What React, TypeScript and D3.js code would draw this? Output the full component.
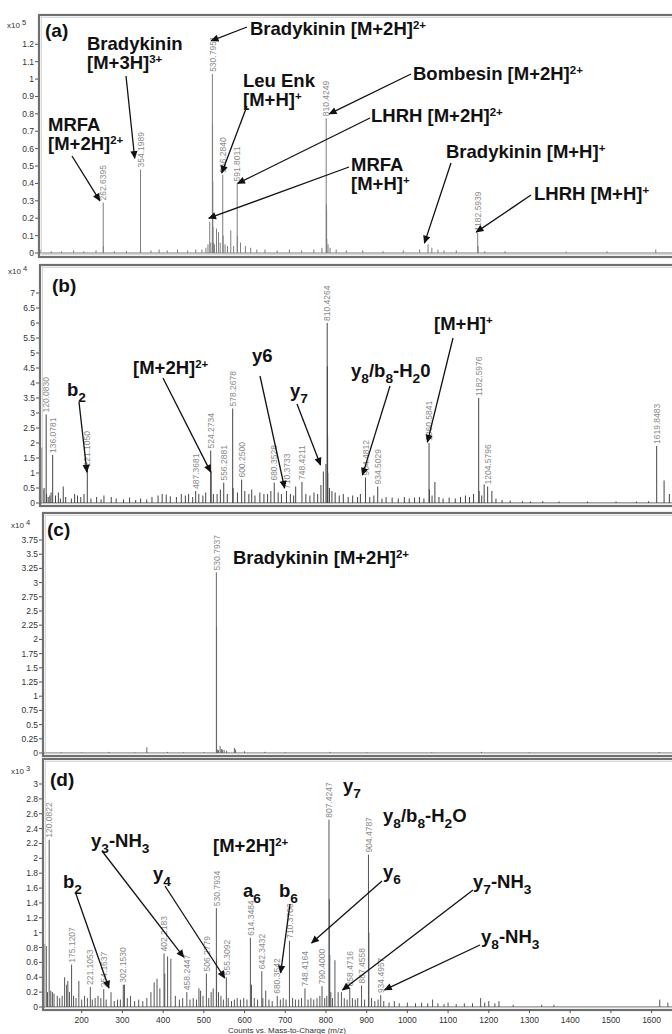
import React from 'react';
import * as d3 from 'd3';

const FONT = '"Liberation Sans", Arial, Helvetica, sans-serif';

// ---------- data: [m/z, intensity] (intensity in the panel's x10^n units) ----------

// (a) peptide mix, x10^5
const labeledA = [
  [262.6395, 0.29], [354.1989, 0.48], [530.7951, 1.03], [556.284, 0.45],
  [591.8011, 0.4], [810.4249, 0.775], [1182.5939, 0.115],
];
const sticksA = [
  [524.26, 0.18], [531.29, 0.74], [531.79, 0.41], [532.3, 0.15], [541, 0.14], [546, 0.12],
  [557.29, 0.1], [576, 0.13], [592.3, 0.1], [810.92, 0.28], [811.43, 0.25], [811.93, 0.08],
  [1060.57, 0.05], [1183.6, 0.04],
  [110, 0.02], [135, 0.01], [160, 0.01], [190, 0.015], [215, 0.01], [245, 0.015], [263.14, 0.04],
  [290, 0.01], [320, 0.012], [354.53, 0.03], [380, 0.015], [400, 0.02], [420, 0.015], [445, 0.02],
  [470, 0.015], [490, 0.02], [505, 0.02], [515, 0.03], [520, 0.05], [527, 0.06], [533, 0.06],
  [536, 0.05], [550, 0.06], [562, 0.05], [568, 0.04], [583, 0.04], [600, 0.06], [612, 0.04],
  [625, 0.03], [640, 0.02], [660, 0.02], [690, 0.015], [720, 0.02], [750, 0.015], [780, 0.02],
  [800, 0.03], [815, 0.05], [820, 0.03], [835, 0.02], [860, 0.015], [900, 0.015], [950, 0.01],
  [1000, 0.015], [1040, 0.02], [1070, 0.03], [1085, 0.02], [1100, 0.015], [1130, 0.015],
  [1200, 0.01], [1250, 0.01], [1400, 0.008], [1500, 0.01], [1620, 0.02],
];

// (b) bombesin MS/MS, x10^4
const labeledB = [
  [120.083, 2.95], [136.0781, 1.6], [221.105, 1.15], [487.3681, 0.4], [524.2734, 1.75],
  [556.2881, 0.68], [578.2678, 3.15], [600.25, 0.78], [680.3528, 0.68], [710.3733, 0.4],
  [748.4211, 0.7], [810.4264, 6.0], [904.4812, 0.85], [934.5029, 0.55], [1060.5841, 2.0],
  [1182.5976, 3.5], [1204.5796, 0.55], [1619.8483, 1.9],
];
const sticksB = [
  [110.07, 1.85], [112, 0.45], [121.08, 0.3], [129, 0.25], [132, 0.35], [162, 0.55],
  [525.28, 1.05], [530.79, 0.3], [579.27, 0.5], [733, 0.55], [801, 1.05], [807.4, 1.3],
  [810.93, 4.55], [811.43, 2.25], [811.93, 1.0], [1061.59, 0.45], [1075, 0.7], [1183.6, 0.4],
  [1196, 0.62], [1215, 0.4], [1638, 0.75], [1651, 0.3],
  [104, 0.15], [115, 0.5], [125, 0.2], [143, 0.25], [150, 0.35], [155, 0.15], [168, 0.2],
  [182, 0.15], [190, 0.3], [197, 0.25], [205, 0.2], [213, 0.3], [230, 0.15], [244, 0.2],
  [255, 0.12], [262, 0.25], [280, 0.2], [292, 0.15], [310, 0.12], [325, 0.18], [340, 0.1],
  [352, 0.15], [367, 0.12], [380, 0.2], [395, 0.25], [405, 0.3], [415, 0.28], [425, 0.22],
  [440, 0.2], [452, 0.3], [462, 0.25], [470, 0.3], [480, 0.2], [495, 0.3], [505, 0.25],
  [512, 0.35], [540, 0.3], [548, 0.45], [565, 0.3], [590, 0.35], [608, 0.4], [618, 0.3],
  [625, 0.45], [633, 0.25], [645, 0.35], [655, 0.3], [664, 0.3], [672, 0.4], [690, 0.35],
  [698, 0.3], [720, 0.3], [728, 0.25], [758, 0.3], [768, 0.25], [778, 0.35], [787, 0.3],
  [795, 0.6], [816, 0.5], [822, 0.4], [830, 0.35], [840, 0.25], [850, 0.3], [862, 0.2],
  [873, 0.25], [885, 0.2], [892, 0.3], [915, 0.2], [925, 0.25], [945, 0.15], [955, 0.2],
  [970, 0.18], [985, 0.15], [1000, 0.2], [1012, 0.15], [1025, 0.18], [1037, 0.2], [1048, 0.15],
  [1068, 0.25], [1085, 0.2], [1095, 0.15], [1110, 0.18], [1125, 0.15], [1138, 0.2], [1150, 0.25],
  [1160, 0.2], [1170, 0.3], [1190, 0.25], [1225, 0.15], [1240, 0.1], [1260, 0.08], [1290, 0.06],
  [1310, 0.05], [1340, 0.06], [1380, 0.05], [1450, 0.05], [1520, 0.05], [1570, 0.05], [1600, 0.06],
];

// (c) isolated bradykinin precursor, x10^4
const labeledC = [[530.7937, 3.18]];
const sticksC = [
  [531.29, 2.22], [150, 0.01], [200, 0.01], [267, 0.02], [330, 0.01], [360, 0.1], [411, 0.02],
  [450, 0.01], [500, 0.015], [533, 0.06], [536, 0.05], [540, 0.12], [543, 0.07], [546, 0.06],
  [550, 0.05], [556, 0.04], [575, 0.09], [578, 0.06], [600, 0.03], [650, 0.02], [700, 0.01],
  [810, 0.02], [900, 0.01], [1060, 0.01], [1182, 0.02], [1300, 0.01], [1619, 0.015],
];

// (d) bradykinin MS/MS, x10^3
const labeledD = [
  [120.0822, 2.25], [175.1207, 0.57], [221.1053, 0.27], [254.1637, 0.24], [302.153, 0.3],
  [402.2183, 0.72], [458.2447, 0.2], [506.2779, 0.45], [530.7934, 1.33], [555.3092, 0.4],
  [614.3484, 0.93], [642.3432, 0.48], [680.3542, 0.15], [710.3708, 0.89], [748.4164, 0.25],
  [790.4, 0.28], [807.4247, 2.52], [858.4716, 0.25], [887.4558, 0.29], [904.4787, 2.05],
  [934.4957, 0.16],
];
const sticksD = [
  [103, 0.2], [106, 0.15], [110, 0.85], [113, 0.82], [116, 0.2], [124, 0.22], [128, 0.2],
  [132, 0.18], [140, 0.15], [146, 0.12], [152, 0.15], [158, 0.4], [163, 0.3], [166, 0.35],
  [170, 0.2], [180, 0.15], [186, 0.12], [193, 0.35], [200, 0.1], [207, 0.15], [214, 0.12],
  [226, 0.1], [233, 0.12], [240, 0.15], [247, 0.12], [260, 0.1], [272, 0.2], [280, 0.08],
  [288, 0.1], [295, 0.1], [305, 0.3], [312, 0.12], [320, 0.15], [330, 0.08], [340, 0.1],
  [350, 0.08], [360, 0.12], [370, 0.2], [378, 0.33], [385, 0.38], [392, 0.25], [404, 0.45],
  [411, 0.68], [419, 0.65], [430, 0.15], [440, 0.1], [448, 0.12], [466, 0.1], [474, 0.12],
  [482, 0.1], [488, 0.25], [492, 0.22], [498, 0.15], [512, 0.12], [518, 0.2], [523, 0.25],
  [531.29, 0.65], [536, 0.2], [542, 0.15], [548, 0.1], [560, 0.12], [568, 0.08], [575, 0.1],
  [582, 0.12], [590, 0.1], [598, 0.12], [606, 0.1], [617, 0.3], [624, 0.12], [632, 0.1],
  [645, 0.12], [652, 0.22], [660, 0.1], [668, 0.08], [688, 0.1], [695, 0.12], [702, 0.1],
  [718, 0.12], [725, 0.1], [733, 0.1], [740, 0.12], [756, 0.1], [763, 0.12], [770, 0.1],
  [778, 0.12], [785, 0.15], [797, 0.12], [802, 0.15], [808.43, 1.45], [809.43, 0.7], [812, 0.2],
  [816, 0.12], [822, 0.63], [830, 0.2], [838, 0.2], [845, 0.12], [852, 0.1], [865, 0.12],
  [872, 0.1], [878, 0.12], [895, 0.1], [905.48, 1.0], [912, 0.12], [920, 0.08], [928, 0.1],
  [942, 0.08], [955, 0.06], [968, 0.08], [980, 0.05], [1000, 0.06], [1020, 0.05], [1035, 0.06],
  [1050, 0.05], [1062, 0.1], [1075, 0.05], [1090, 0.04], [1100, 0.06], [1120, 0.04], [1140, 0.05],
  [1160, 0.05], [1180, 0.12], [1190, 0.06], [1200, 0.08], [1215, 0.05], [1225, 0.08], [1260, 0.03],
  [1330, 0.03], [1360, 0.03], [1620, 0.1], [1640, 0.06],
];

// annotations: text lines and the point (m/z, intensity) the arrow points at
const annA = [
  { lines: ['Bradykinin [M+2H]^{2+}'], mz: 528, v: 1.22 },
  { lines: ['Bradykinin', '[M+3H]^{3+}'], mz: 340, v: 0.545 },
  { lines: ['Leu Enk', '[M+H]^{+}'], mz: 553.8, v: 0.46 },
  { lines: ['MRFA', '[M+2H]^{2+}'], mz: 254.5, v: 0.3 },
  { lines: ['Bombesin [M+2H]^{2+}'], mz: 818, v: 0.8 },
  { lines: ['LHRH [M+2H]^{2+}'], mz: 593, v: 0.4 },
  { lines: ['MRFA', '[M+H]^{+}'], mz: 522, v: 0.2 },
  { lines: ['Bradykinin [M+H]^{+}'], mz: 1051.7, v: 0.057 },
  { lines: ['LHRH [M+H]^{+}'], mz: 1179, v: 0.12 },
];
const annB = [
  { lines: ['b_2'], mz: 220.2, v: 1.03 },
  { lines: ['[M+2H]^{2+}'], mz: 524.3, v: 1.03 },
  { lines: ['y6'], mz: 705.8, v: 0.5 },
  { lines: ['y_7'], mz: 794, v: 1.27 },
  { lines: ['y_8/b_8-H_20'], mz: 897, v: 0.93 },
  { lines: ['[M+H]^{+}'], mz: 1056.6, v: 2.03 },
];
const annC = [{ lines: ['Bradykinin [M+2H]^{2+}'], mz: null, v: null }];
const annD = [
  { lines: ['y_3-NH_3'], mz: 450.7, v: 0.67 },
  { lines: ['[M+2H]^{2+}'], mz: null, v: null },
  { lines: ['b_2'], mz: 266.8, v: 0.255 },
  { lines: ['y_4'], mz: 551.3, v: 0.39 },
  { lines: ['a_6'], mz: null, v: null },
  { lines: ['b_6'], mz: 688.7, v: 0.46 },
  { lines: ['y_7'], mz: null, v: null },
  { lines: ['y_8/b_8-H_2O'], mz: null, v: null },
  { lines: ['y_6'], mz: 764.7, v: 0.86 },
  { lines: ['y_7-NH_3'], mz: 840.7, v: 0.23 },
  { lines: ['y_8-NH_3'], mz: 943.8, v: 0.23 },
];

const xTicks = [200, 300, 400, 500, 600, 700, 800, 900, 1000, 1100, 1200, 1300, 1400, 1500, 1600];

// ---------- layout ----------
// text position [x, baseline] and arrow tail [x, y], in pixels, same order as ann arrays
const posA = [[250, 35, 247, 27], [87, 50, 126, 76], [243, 87, 247, 106], [48, 131, 72, 156],
  [413, 80, 411, 74], [371, 122, 370, 118], [351, 171, 349, 167], [446, 158, 451, 163], [534, 200, 531, 195]];
const posB = [[67, 396, 79, 402], [133, 374, 163, 378], [252, 362, 260, 376], [290, 397, 297, 404],
  [351, 377, 390, 386], [434, 330, 453, 338]];
const posC = [[233, 564]];
const posD = [[91, 847, 102, 851], [213, 852], [63, 888, 76, 894], [153, 880, 165, 886], [243, 897],
  [279, 897, 290, 904], [343, 792], [383, 822], [383, 878, 382, 881], [473, 888, 473, 890], [481, 943, 480, 945]];

const panels = [
  { letter: '(a)', letterPos: [45, 37], top: 15, bottom: 257, zero: 253, tickMax: 1.2, tickY: 44.3, step: 0.1, exp: '5', expY: 28, shift: 0, color: '#7d7d7d', labeled: labeledA, sticks: sticksA, ann: annA, pos: posA },
  { letter: '(b)', letterPos: [52, 292], top: 265, bottom: 506, zero: 503, tickMax: 7, tickY: 293, step: 0.5, exp: '4', expY: 274, shift: 1, color: '#444', labeled: labeledB, sticks: sticksB, ann: annB, pos: posB },
  { letter: '(c)', letterPos: [47, 536], top: 513, bottom: 756, zero: 753, tickMax: 3.75, tickY: 540, step: 0.25, exp: '4', expY: 528, shift: 4, color: '#666', labeled: labeledC, sticks: sticksC, ann: annC, pos: posC },
  { letter: '(d)', letterPos: [50, 786], top: 759, bottom: 1010, zero: 1007, tickMax: 3, tickY: 784, step: 0.2, exp: '3', expY: 774, shift: 4, color: '#555', labeled: labeledD, sticks: sticksD, ann: annD, pos: posD },
];

const x = d3.scaleLinear().domain([100, 1655]).range([37, 670]);

function parseRich(s) {
  const out = [];
  let buf = '';
  let i = 0;
  const flush = () => { if (buf) { out.push({ t: buf, k: 'n' }); buf = ''; } };
  while (i < s.length) {
    const c = s[i];
    if (c === '_') { flush(); out.push({ t: s[i + 1], k: 'sub' }); i += 2; continue; }
    if (c === '^' && s[i + 1] === '{') {
      flush();
      const j = s.indexOf('}', i);
      out.push({ t: s.slice(i + 2, j), k: 'sup' });
      i = j + 1;
      continue;
    }
    buf += c;
    i++;
  }
  flush();
  return out;
}

function Rich({ s, x, y, size = 18.5 }) {
  const segs = parseRich(s);
  let off = 0;
  return (
    <text x={x} y={y} fontSize={size} fontWeight="bold" fill="#111">
      {segs.map((g, i) => {
        const target = g.k === 'sub' ? size * 0.3 : g.k === 'sup' ? -size * 0.34 : 0;
        const dy = target - off;
        off = target;
        const fs = g.k === 'sub' ? size * 0.74 : g.k === 'sup' ? size * 0.62 : size;
        return <tspan key={i} dy={dy} fontSize={fs}>{g.t}</tspan>;
      })}
    </text>
  );
}

function Panel({ p, idx }) {
  const y = d3.scaleLinear().domain([0, p.tickMax]).range([p.zero, p.tickY]);
  const ticks = d3.range(0, p.tickMax + p.step / 2, p.step);
  const clipId = 'clip' + idx;
  return (
    <g transform={`translate(${p.shift},0)`}>
      <defs>
        <clipPath id={clipId}>
          <rect x={40} y={p.top + 1} width={640} height={p.bottom - p.top - 2} />
        </clipPath>
      </defs>
      {/* y axis */}
      {ticks.map((t) => (
        <g key={t}>
          <line x1={35} x2={39} y1={y(t)} y2={y(t)} stroke="#555" strokeWidth={1} />
          <text x={34} y={y(t)} dy="0.35em" textAnchor="end" fontSize={8.5} fill="#333">
            {String(+t.toFixed(2))}
          </text>
        </g>
      ))}
      <text x={7} y={p.expY} fontSize={8} fill="#333">
        x10<tspan dy={-3} fontSize={7.5}>{' ' + p.exp}</tspan>
      </text>
      {/* spectrum */}
      <g clipPath={`url(#${clipId})`}>
        <line x1={40} x2={680} y1={p.zero} y2={p.zero} stroke={p.color} strokeWidth={1.2} />
        {p.sticks.map((d, i) => (
          <line key={'s' + i} x1={x(d[0])} x2={x(d[0])} y1={p.zero} y2={y(d[1])} stroke={p.color} strokeWidth={1} />
        ))}
        {p.labeled.map((d, i) => (
          <line key={'l' + i} x1={x(d[0])} x2={x(d[0])} y1={p.zero} y2={y(d[1])} stroke={p.color} strokeWidth={1} />
        ))}
      </g>
      {p.labeled.map((d, i) => (
        <text key={'t' + i} transform={`translate(${x(d[0]) + 3.2},${y(d[1]) - 2}) rotate(-90)`}
          fontSize={8.5} fill="#8a8a8a">
          {d[0].toFixed(4)}
        </text>
      ))}
      {/* frame */}
      <rect x={39} y={p.top} width={650} height={p.bottom - p.top} fill="none" stroke="#707070" strokeWidth={2.2} />
      <rect x={41.5} y={p.top + 2.5} width={650} height={p.bottom - p.top - 5} fill="none" stroke="#d0d0d0" strokeWidth={0.8} />
      {/* annotations */}
      <text x={p.letterPos[0] - p.shift} y={p.letterPos[1]} fontSize={19} fontWeight="bold" fill="#111">{p.letter}</text>
      {p.ann.map((a, i) => {
        const ps = p.pos[i];
        return (
          <g key={'a' + i} transform={`translate(${-p.shift},0)`}>
            {a.lines.map((ln, j) => (
              <Rich key={j} s={ln} x={ps[0]} y={ps[1] + j * 19} />
            ))}
            {a.mz != null && (
              <line x1={ps[2]} y1={ps[3]} x2={x(a.mz) + p.shift} y2={y(a.v)} stroke="#111" strokeWidth={1.3}
                markerEnd="url(#ah)" />
            )}
          </g>
        );
      })}
    </g>
  );
}

export default function App() {
  const dShift = panels[3].shift;
  const bottom = panels[3].bottom;
  return (
    <div style={{ position: 'absolute', left: 0, top: 0, background: '#fff' }}>
      <svg width={672} height={1034} fontFamily={FONT} style={{ display: 'block' }}>
        <defs>
          <marker id="ah" viewBox="0 0 10 10" refX={9} refY={5} markerWidth={9} markerHeight={8}
            markerUnits="userSpaceOnUse" orient="auto">
            <path d="M0,0.5 L10,5 L0,9.5 z" fill="#111" />
          </marker>
        </defs>
        <rect width={672} height={1034} fill="#fff" />
        {panels.map((p, i) => <Panel key={i} p={p} idx={i} />)}
        <g transform={`translate(${dShift},0)`}>
          {xTicks.map((t) => (
            <g key={t}>
              <line x1={x(t)} x2={x(t)} y1={bottom} y2={bottom + 3} stroke="#555" />
              <text x={x(t)} y={bottom + 13} textAnchor="middle" fontSize={8.5} fill="#333">{t}</text>
            </g>
          ))}
          <text x={283} y={1033} textAnchor="middle" fontSize={8} fill="#333">Counts vs. Mass-to-Charge (m/z)</text>
        </g>
      </svg>
    </div>
  );
}
